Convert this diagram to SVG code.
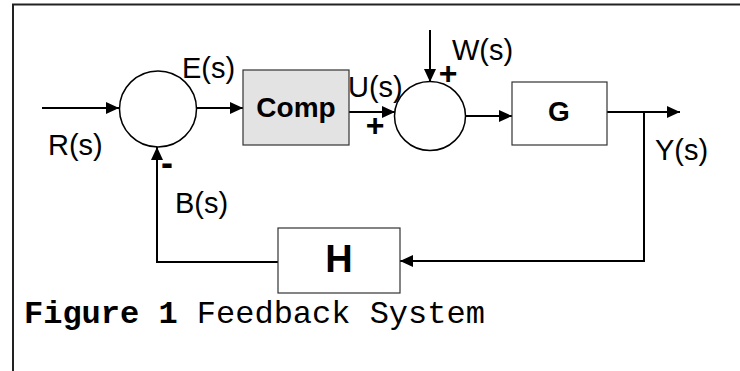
<svg xmlns="http://www.w3.org/2000/svg" width="740" height="371" viewBox="0 0 740 371">
<style>
.t{font-family:"Liberation Sans",Arial,sans-serif;font-size:29px;fill:#000}
.b{font-family:"Liberation Sans",Arial,sans-serif;font-weight:bold;fill:#000}
.w{fill:none;stroke:#000;stroke-width:2}
.box{stroke:#333;stroke-width:1.2}
.sum{fill:#fff;stroke:#000;stroke-width:1.5}
.cap{font-family:"Liberation Mono","Courier New",monospace;font-size:32px;fill:#000}
</style>
<defs>
<marker id="ah" markerUnits="userSpaceOnUse" markerWidth="14" markerHeight="12" refX="13" refY="6" orient="auto">
<path d="M0,0 L13,6 L0,12 Z" fill="#000"/>
</marker>
</defs>
<g id="frame">
<line x1="12" y1="4.5" x2="740" y2="4.5" stroke="#222" stroke-width="2"/>
<line x1="13" y1="4" x2="13" y2="371" stroke="#222" stroke-width="2"/>
</g>
<g id="connectors">
<line class="w" x1="42" y1="108" x2="119" y2="108" marker-end="url(#ah)"/>
<line class="w" x1="197" y1="108" x2="243" y2="108" marker-end="url(#ah)"/>
<line class="w" x1="349" y1="112" x2="395" y2="112" marker-end="url(#ah)"/>
<line class="w" x1="430" y1="30" x2="430" y2="82" marker-end="url(#ah)"/>
<line class="w" x1="466" y1="116" x2="512" y2="116" marker-end="url(#ah)"/>
<line class="w" x1="607" y1="112" x2="680" y2="112" marker-end="url(#ah)"/>
<path class="w" d="M644,112 V261 H400" marker-end="url(#ah)"/>
<path class="w" d="M278,262 H157 V147" marker-end="url(#ah)"/>
</g>
<g id="sum1">
<ellipse class="sum" cx="158" cy="109" rx="38.5" ry="38"/>
<text class="b" x="167" y="175" font-size="36" text-anchor="middle">-</text>
</g>
<g id="comp">
<rect x="243" y="70" width="106" height="75" fill="#e3e3e3" class="box"/>
<text class="b" x="296" y="117" font-size="28" text-anchor="middle">Comp</text>
</g>
<g id="sum2">
<ellipse class="sum" cx="430" cy="116" rx="35.5" ry="34.5"/>
<text class="b" x="448" y="84" font-size="32" text-anchor="middle">+</text>
<text class="b" x="375" y="136" font-size="32" text-anchor="middle">+</text>
</g>
<g id="g">
<rect x="512" y="82" width="95" height="63" fill="#fff" class="box"/>
<text class="b" x="559" y="121" font-size="28" text-anchor="middle">G</text>
</g>
<g id="h">
<rect x="278" y="228" width="122" height="65" fill="#fff" class="box"/>
<text class="b" x="339" y="272" font-size="38" text-anchor="middle">H</text>
</g>
<g id="labels">
<text class="t" x="182" y="78">E(s)</text>
<text class="t" x="48" y="155">R(s)</text>
<text class="t" x="348" y="97">U(s)</text>
<text class="t" x="452" y="60">W(s)</text>
<text class="t" x="655" y="160">Y(s)</text>
<text class="t" x="175" y="213">B(s)</text>
</g>
<text class="cap" x="24" y="323"><tspan font-weight="bold">Figure 1</tspan> Feedback System</text>
</svg>
